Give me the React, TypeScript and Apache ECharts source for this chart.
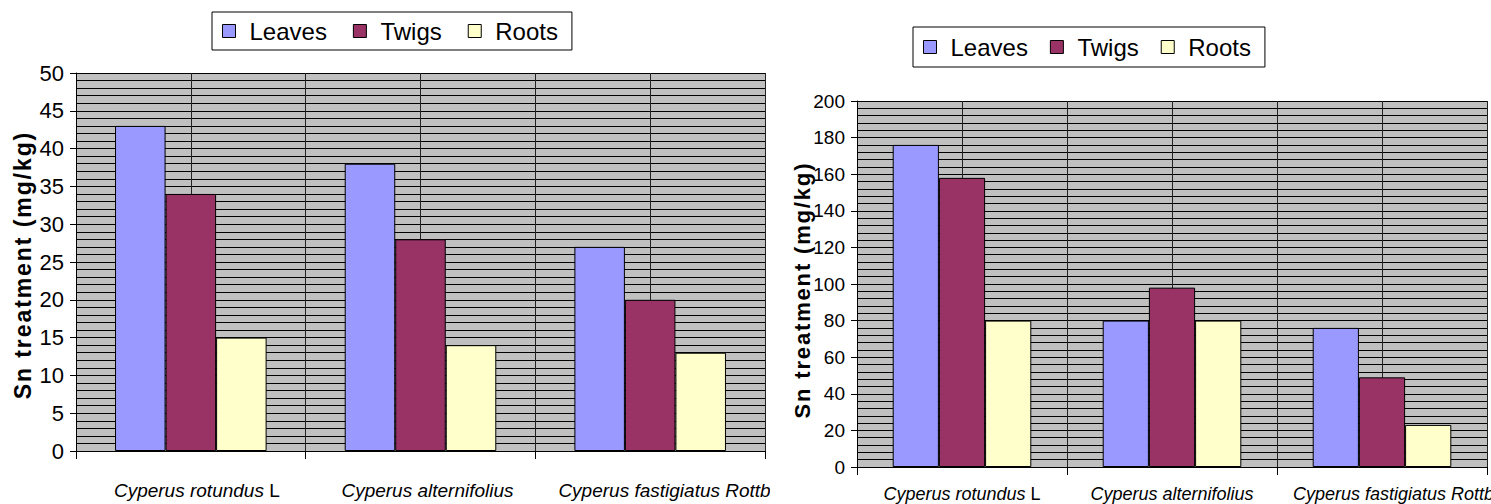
import React, { useEffect, useRef } from "react";
import * as echarts from "echarts";

const CATEGORIES = ["Cyperus rotundus L", "Cyperus alternifolius", "Cyperus fastigiatus Rottb."];
const SERIES_NAMES = ["Leaves", "Twigs", "Roots"];
const SERIES_COLORS = ["#9999ff", "#993366", "#ffffcc"];

const LEFT_LEAVES = [43, 38, 27];
const LEFT_TWIGS = [34, 28, 20];
const LEFT_ROOTS = [15, 14, 13];
const LEFT_Y_MIN = 0;
const LEFT_Y_MAX = 50;
const LEFT_Y_STEP = 5;

const RIGHT_LEAVES = [176, 80, 76];
const RIGHT_TWIGS = [158, 98, 49];
const RIGHT_ROOTS = [80, 80, 23];
const RIGHT_Y_MIN = 0;
const RIGHT_Y_MAX = 200;
const RIGHT_Y_STEP = 20;

const Y_TITLE = "Sn treatment (mg/kg)";

const SANS = "'Liberation Sans', Arial, Helvetica, sans-serif";

type Cfg = {
  values: number[][];
  min: number;
  max: number;
  step: number;
  grid: { left: number; right: number; top: number; bottom: number };
  legend: { left: number; top: number; padV: number; gap: number };
  tickFont: number;
  catFont: number;
  catMargin: number;
  shifts: number[];
  title: { x: number; y: number; size: number };
};

function makeOption(cfg: Cfg): any {
  const rich: any = { u: { fontStyle: "normal", fontSize: cfg.catFont, fontFamily: SANS, lineHeight: 20, color: "#000" } };
  cfg.shifts.forEach((s, i) => {
    rich["a" + i] = {
      fontStyle: "italic",
      fontSize: cfg.catFont,
      fontFamily: SANS,
      lineHeight: 20,
      color: "#000",
      padding: [0, 0, 0, Math.max(0, 2 * s)],
    };
  });
  const halfSlots = CATEGORIES.flatMap((c) => [c + "#a", c + "#b"]);
  const spacedTitle = Y_TITLE.split("").join("\u200A");
  return {
    animation: false,
    backgroundColor: "#ffffff",
    legend: {
      data: SERIES_NAMES,
      left: cfg.legend.left,
      top: cfg.legend.top,
      orient: "horizontal",
      icon: "rect",
      itemWidth: 13,
      itemHeight: 13,
      itemGap: cfg.legend.gap,
      padding: [cfg.legend.padV, 14, cfg.legend.padV, 10],
      borderColor: "#000",
      borderWidth: 1,
      backgroundColor: "#fff",
      itemStyle: { borderColor: "#000", borderWidth: 1 },
      textStyle: { fontSize: 24, fontFamily: SANS, color: "#000", padding: [0, 0, 0, 9] },
    },
    grid: {
      left: cfg.grid.left,
      right: cfg.grid.right,
      top: cfg.grid.top,
      bottom: cfg.grid.bottom,
      show: true,
      backgroundColor: "#c0c0c0",
      borderWidth: 0,
      containLabel: false,
      outerBoundsMode: "none",
    },
    xAxis: [
      {
        type: "category",
        data: CATEGORIES,
        position: "bottom",
        axisLine: { show: true, lineStyle: { color: "#000", width: 1 } },
        axisTick: { show: true, length: 8, interval: 0, lineStyle: { color: "#000" } },
        splitLine: { show: false },
        axisLabel: {
          interval: 0,
          margin: cfg.catMargin,
          color: "#000",
          hideOverlap: false,
          formatter: (value: string, idx: number) => {
            const m = value.match(/^(.*) L$/);
            if (m) return "{a" + idx + "|" + m[1] + " }{u|L}";
            return "{a" + idx + "|" + value + "}";
          },
          rich,
        },
      },
      {
        type: "category",
        data: halfSlots,
        position: "bottom",
        axisLine: { show: false },
        axisTick: { show: false },
        axisLabel: { show: false },
        splitLine: { show: true, interval: 0, lineStyle: { color: "#222", width: 1 } },
      },
    ],
    yAxis: {
      type: "value",
      min: cfg.min,
      max: cfg.max,
      interval: cfg.step,
      axisLine: { show: true, lineStyle: { color: "#000", width: 1 } },
      axisTick: { show: true, length: 6, lineStyle: { color: "#000" } },
      axisLabel: { fontSize: cfg.tickFont, fontFamily: SANS, color: "#000", margin: 12 },
      splitLine: { show: true, lineStyle: { color: "#000", width: 1 } },
      minorTick: { show: false, splitNumber: 5 },
      minorSplitLine: { show: true, lineStyle: { color: "#000", width: 1 } },
    },
    series: SERIES_NAMES.map((name, i) => ({
      name,
      type: "bar",
      xAxisIndex: 0,
      data: cfg.values[i],
      barGap: "0%",
      barCategoryGap: "34%",
      itemStyle: { color: SERIES_COLORS[i], borderColor: "#000", borderWidth: 1 },
    })),
    graphic: [
      {
        type: "text",
        x: cfg.title.x,
        y: cfg.title.y,
        rotation: Math.PI / 2,
        style: {
          text: spacedTitle,
          fontSize: cfg.title.size,
          fontWeight: "bold",
          fontFamily: SANS,
          fill: "#000",
          align: "center",
          verticalAlign: "middle",
        },
      },
    ],
  };
}

const LEFT_CFG: Cfg = {
  values: [LEFT_LEAVES, LEFT_TWIGS, LEFT_ROOTS],
  min: LEFT_Y_MIN,
  max: LEFT_Y_MAX,
  step: LEFT_Y_STEP,
  grid: { left: 76, right: 5, top: 73, bottom: 53 },
  legend: { left: 212, top: 12, padV: 7, gap: 26 },
  tickFont: 22,
  catFont: 19,
  catMargin: 29,
  shifts: [6, 7, 17],
  title: { x: 23, y: 266, size: 23 },
};

const RIGHT_CFG: Cfg = {
  values: [RIGHT_LEAVES, RIGHT_TWIGS, RIGHT_ROOTS],
  min: RIGHT_Y_MIN,
  max: RIGHT_Y_MAX,
  step: RIGHT_Y_STEP,
  grid: { left: 77, right: 4, top: 101, bottom: 37 },
  legend: { left: 133, top: 27, padV: 8, gap: 22 },
  tickFont: 19,
  catFont: 18,
  catMargin: 17,
  shifts: [0, 0, 14],
  title: { x: 22.5, y: 291, size: 22 },
};

function Chart({ cfg, style }: { cfg: Cfg; style: React.CSSProperties }) {
  const ref = useRef<HTMLDivElement>(null);
  useEffect(() => {
    if (!ref.current) return;
    const chart = echarts.init(ref.current, null, { renderer: "svg" });
    chart.setOption(makeOption(cfg));
    return () => chart.dispose();
  }, [cfg]);
  return <div ref={ref} style={style} />;
}

export default function App() {
  return (
    <div style={{ position: "absolute", left: 0, top: 0, width: 1491, height: 504, background: "#fff", overflow: "hidden" }}>
      <Chart cfg={LEFT_CFG} style={{ position: "absolute", left: 0, top: 0, width: 770, height: 504, overflow: "hidden" }} />
      <Chart cfg={RIGHT_CFG} style={{ position: "absolute", left: 780, top: 0, width: 711, height: 504, overflow: "hidden" }} />
    </div>
  );
}
